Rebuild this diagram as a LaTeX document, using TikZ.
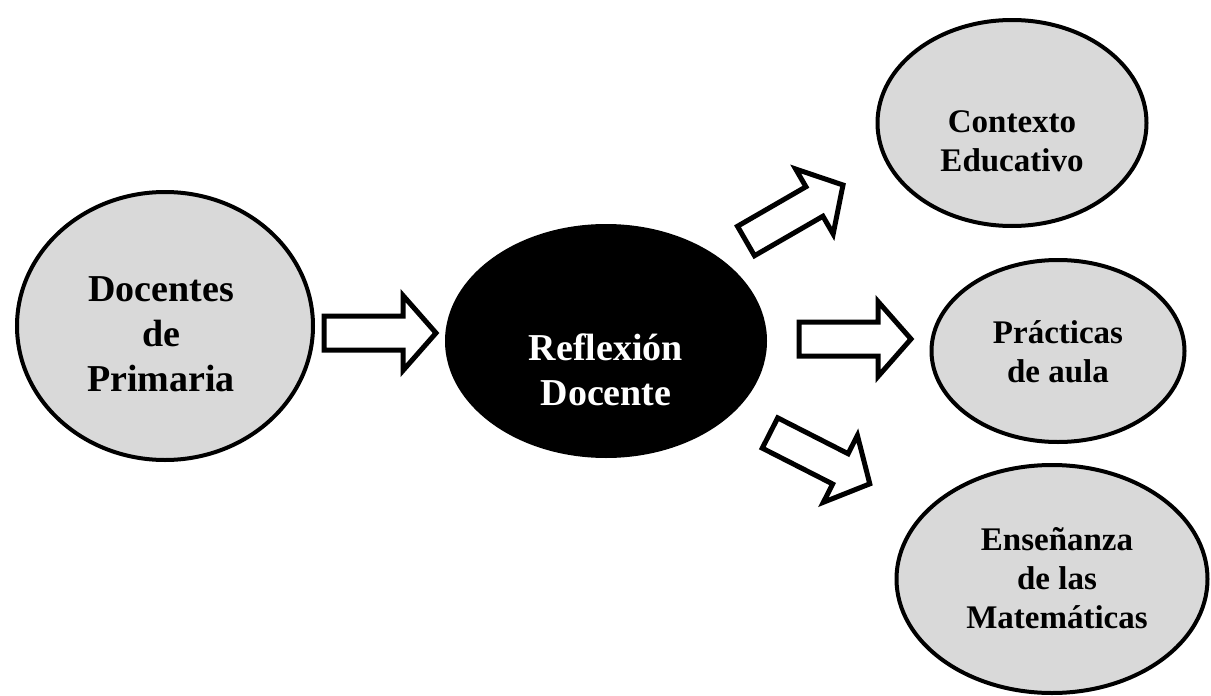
\documentclass[tikz,border=0pt]{standalone}
\usepackage{fontspec}
\setmainfont{Liberation Serif}
\usetikzlibrary{shapes.geometric}
\definecolor{bubblegray}{HTML}{D9D9D9}
\tikzset{
  bubble/.style={ellipse, draw=black, line width=4pt, fill=bubblegray, inner sep=0pt},
  core/.style={ellipse, fill=black, inner sep=0pt},
  bigtext/.style={align=center, font=\fontsize{38}{45}\selectfont\bfseries, inner sep=0pt},
  smalltext/.style={align=center, font=\fontsize{33}{39}\selectfont\bfseries, inner sep=0pt},
  pics/blockarrow/.style={code={
    \draw[line width=5pt, fill=white]
      (0,-17) -- (79,-17) -- (79,-37.5) -- (112,0) -- (79,37.5) -- (79,17) -- (0,17) -- cycle;
  }}
}
\begin{document}
\begin{tikzpicture}[x=1pt,y=-1pt]
\useasboundingbox (0,0) rectangle (1211,696);

% ellipses
\node[bubble, minimum width=296, minimum height=268] (prim) at (165,326) {};
\node[core,   minimum width=322, minimum height=234] (refl) at (606,341) {};
\node[bubble, minimum width=269, minimum height=206] (ctx)  at (1012,123) {};
\node[bubble, minimum width=253, minimum height=182] (prac) at (1058,351) {};
\node[bubble, minimum width=311, minimum height=228] (ens)  at (1052,579) {};

% labels
\node[bigtext] (primtxt) at (161,334.5) {Docentes\\de\\Primaria};
\node[bigtext, text=white] (refltxt) at (606,370) {Reflexión\\Docente};
\node[smalltext] (ctxtxt) at (1012,141.5) {Contexto\\Educativo};
\node[smalltext] (practxt) at (1058,352) {Prácticas\\de aula};
\node[smalltext] (enstxt) at (1057,578) {Enseñanza\\de las\\Matemáticas};

% block arrows (tail midpoints)
\coordinate (a1) at (324,333);
\coordinate (a2) at (799,339);
\coordinate (a3) at (746,241);
\coordinate (a4) at (770,433);
\pic at (a1) {blockarrow};
\pic at (a2) {blockarrow};
\pic[rotate=30] at (a3) {blockarrow};
\pic[rotate=-27] at (a4) {blockarrow};
\end{tikzpicture}
\end{document}
